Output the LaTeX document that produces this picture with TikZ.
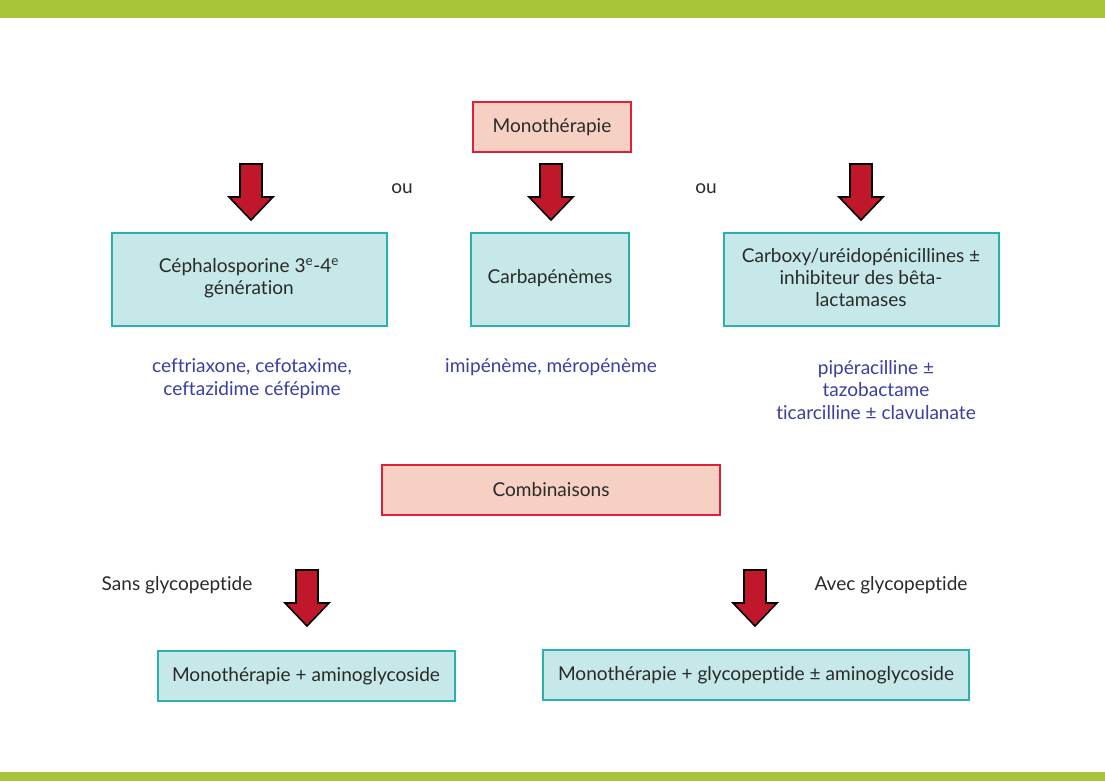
\documentclass[tikz,border=0pt]{standalone}
\usepackage{fontspec}
\setmainfont{Lato}[Ligatures={NoCommon,NoRare,NoDiscretionary}]
\definecolor{bar}{HTML}{A8C43A}
\definecolor{pinkf}{HTML}{F7D0C4}
\definecolor{redb}{HTML}{E0203A}
\definecolor{cyanf}{HTML}{C6E8E8}
\definecolor{cyanb}{HTML}{2AB0B0}
\definecolor{arr}{HTML}{C0182A}
\definecolor{blu}{HTML}{3A3FA0}
\definecolor{txt}{HTML}{2A2A2A}
\tikzset{
 pbox/.style={draw=redb,fill=pinkf,line width=0.8pt},
 cbox/.style={draw=cyanb,fill=cyanf,line width=0.8pt},
 lbl/.style={font=\fontsize{14.3}{16.5}\selectfont,text=txt,align=center},
 blab/.style={font=\fontsize{14.3}{17.2}\selectfont,text=blu,align=center},
}
\newcommand{\bigarrow}[3]{% name, cx, ytop
 \draw[fill=arr,draw=black,line width=1.2pt] (#2-11,#3) -- (#2+11,#3) -- (#2+11,#3+33) -- (#2+22,#3+33) -- (#2,#3+56) -- (#2-22,#3+33) -- (#2-11,#3+33) -- cycle;
 \coordinate (#1) at (#2,#3);}
\begin{document}
\begin{tikzpicture}[x=0.75pt,y=-0.75pt]
\useasboundingbox (0,0) rectangle (1105,781);
\fill[bar] (0,0) rectangle (1105,18);
\fill[bar] (0,772) rectangle (1105,781);
\draw[pbox] (473,102) rectangle (631,152);
\node[lbl] (mono) at (552,127) {Monothérapie};
\bigarrow{a1}{251}{164}
\bigarrow{a2}{551}{164}
\bigarrow{a3}{861}{164}
\node[lbl] (ou1) at (402,189) {ou};
\node[lbl] (ou2) at (706,189) {ou};
\draw[cbox] (112,233) rectangle (387,326);
\node[lbl] (b1) at (249,278) {Céphalosporine 3\textsuperscript{e}-4\textsuperscript{e}\\génération};
\draw[cbox] (471,233) rectangle (629,326);
\node[lbl] (b2) at (550,278) {Carbapénèmes};
\draw[cbox] (724,233) rectangle (999,326);
\node[lbl] (b3) at (861,278) {Carboxy/uréidopénicillines ±\\inhibiteur des bêta-\\lactamases};
\node[blab] (t1) at (252,379) {ceftriaxone, cefotaxime,\\ceftazidime céfépime};
\node[blab] (t2) at (551,367) {imipénème, méropénème};
\node[blab] (t3) at (876,390) {pipéracilline ±\\tazobactame\\ticarcilline ± clavulanate};
\draw[pbox] (382,465) rectangle (720,515);
\node[lbl] (comb) at (551,490) {Combinaisons};
\bigarrow{a4}{307}{570}
\bigarrow{a5}{755}{570}
\node[lbl] (sans) at (177,585) {Sans glycopeptide};
\node[lbl] (avec) at (891,585) {Avec glycopeptide};
\draw[cbox] (158,651) rectangle (455,701);
\node[lbl] (b4) at (306,676) {Monothérapie + aminoglycoside};
\draw[cbox] (543,650) rectangle (969,700);
\node[lbl] (b5) at (756,675) {Monothérapie + glycopeptide ± aminoglycoside};
\end{tikzpicture}
\end{document}
